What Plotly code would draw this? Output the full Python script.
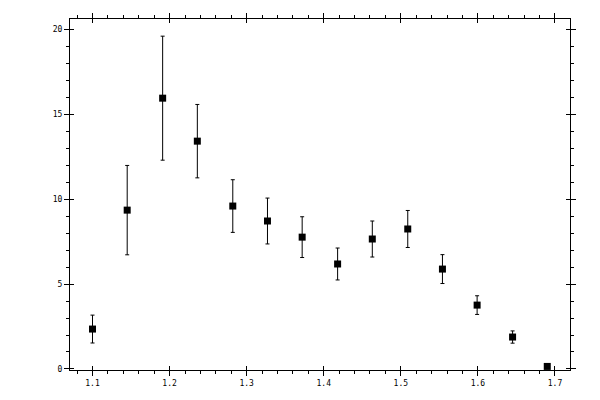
import plotly.graph_objects as go

x_vals = [1.100, 1.145, 1.191, 1.236, 1.282, 1.327, 1.372, 1.418, 1.463, 1.509, 1.554, 1.599, 1.645, 1.690]
y_vals = [2.35, 9.35, 15.94, 13.41, 9.59, 8.71, 7.76, 6.18, 7.65, 8.24, 5.88, 3.76, 1.88, 0.15]
y_err = [0.82, 2.63, 3.65, 2.16, 1.55, 1.35, 1.20, 0.94, 1.06, 1.09, 0.85, 0.55, 0.36, 0.08]

x_range = [1.0708, 1.7195]
y_range = [-0.06, 20.6]
font = dict(family="DejaVu Sans Mono", size=8, color="black")

fig = go.Figure()
fig.add_trace(go.Scatter(
    x=x_vals, y=y_vals, mode="markers",
    marker=dict(symbol="square", size=7, color="black", line=dict(width=0)),
    error_y=dict(type="data", array=y_err, visible=True, color="black", thickness=1, width=2),
    showlegend=False, hoverinfo="skip",
))
# invisible trace for overlay axes (inner half of major ticks)
fig.add_trace(go.Scatter(x=[x_vals[0]], y=[y_vals[0]], xaxis="x2", yaxis="y2",
                         mode="markers", marker=dict(opacity=0), showlegend=False, hoverinfo="skip"))

fig.update_layout(
    width=600, height=400,
    margin=dict(l=70, r=30, t=19, b=30),
    paper_bgcolor="white", plot_bgcolor="white",
    font=font,
    xaxis=dict(range=x_range, dtick=0.1, tick0=1.0, showgrid=False, zeroline=False,
               showline=True, linecolor="black", linewidth=1, mirror="ticks",
               ticks="outside", ticklen=5, tickwidth=1, tickcolor="black",
               minor=dict(dtick=0.02, tick0=1.0, ticks="outside", ticklen=3, tickwidth=1, tickcolor="black", showgrid=False),
               tickfont=font, tickformat=".1f"),
    yaxis=dict(range=y_range, dtick=5, tick0=0, showgrid=False, zeroline=False,
               showline=True, linecolor="black", linewidth=1, mirror="ticks",
               ticks="outside", ticklen=5, tickwidth=1, tickcolor="black",
               minor=dict(dtick=1, tick0=0, ticks="outside", ticklen=3, tickwidth=1, tickcolor="black", showgrid=False),
               tickfont=font),
    xaxis2=dict(range=x_range, dtick=0.1, tick0=1.0, overlaying="x", showgrid=False, zeroline=False,
                showline=False, mirror="ticks", ticks="inside", ticklen=4, tickwidth=1, tickcolor="black",
                showticklabels=False),
    yaxis2=dict(range=y_range, dtick=5, tick0=0, overlaying="y", showgrid=False, zeroline=False,
                showline=False, mirror="ticks", ticks="inside", ticklen=4, tickwidth=1, tickcolor="black",
                showticklabels=False),
)

fig.write_html("out.html", config={"displayModeBar": False, "staticPlot": True},
               post_script="document.body.style.margin='0';document.body.style.overflow='hidden';")
